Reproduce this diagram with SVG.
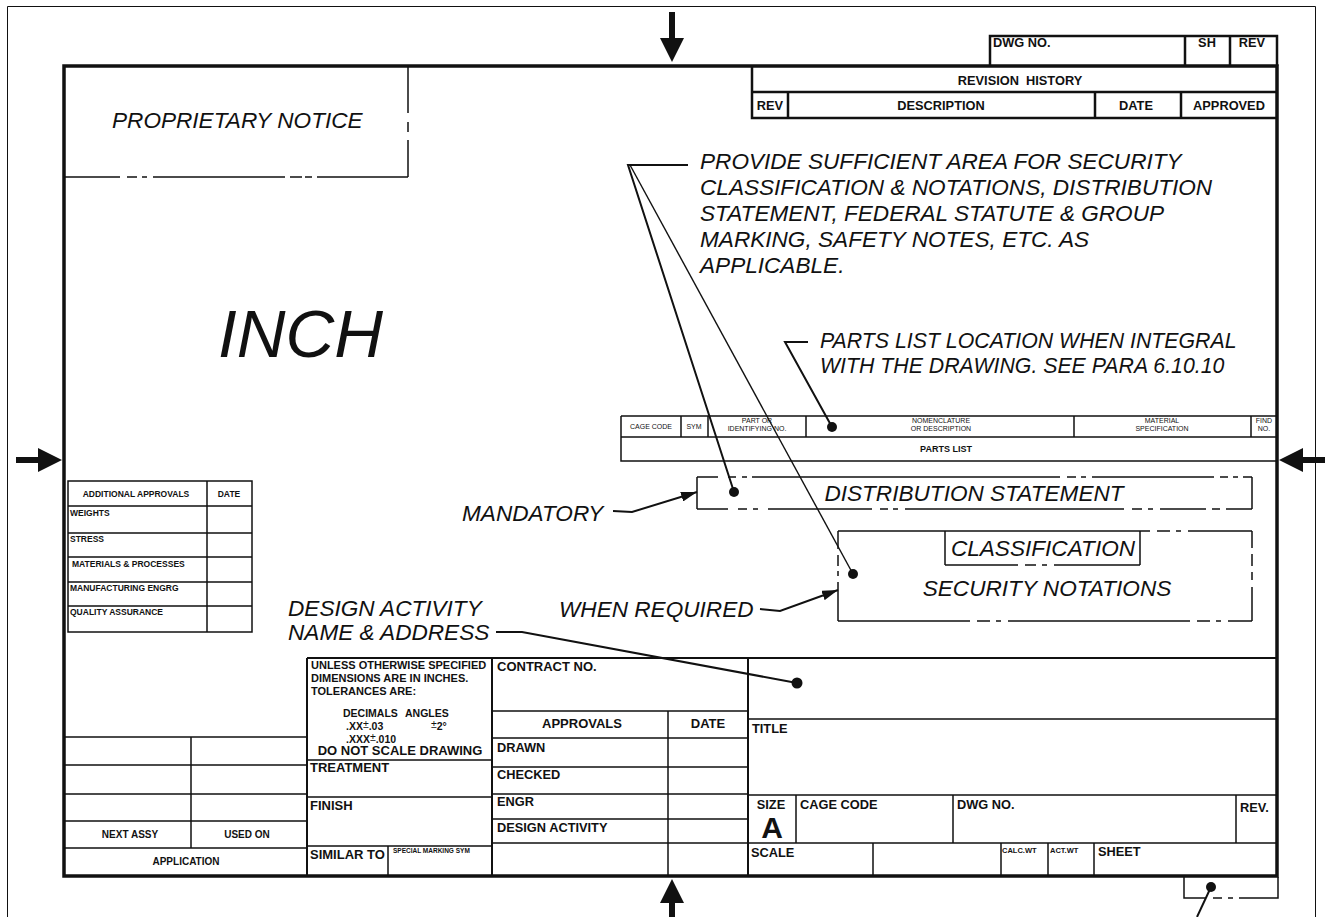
<svg xmlns="http://www.w3.org/2000/svg" width="1325" height="917" viewBox="0 0 1325 917">
<defs>
<style>
.f{font-family:"Liberation Sans",Arial,Helvetica,sans-serif;fill:#111}
.b{font-weight:bold}
.it{font-style:italic;font-size:22.6px}
.it2{font-style:italic;font-size:21.3px}
.m{text-anchor:middle}
.s12{font-size:12px}
.s128{font-size:12.8px}
.s13{font-size:13px}
.s11{font-size:11px}
.s10{font-size:10.5px}
.s85{font-size:8.5px}
.s7{font-size:7px}
.l1{stroke:#111;stroke-width:1;fill:none}
.l15{stroke:#111;stroke-width:1.5;fill:none}
.l2{stroke:#111;stroke-width:2;fill:none}
.l25{stroke:#111;stroke-width:2.5;fill:none}
.l35{stroke:#111;stroke-width:3.5;fill:none}
.ld{stroke:#111;stroke-width:2;fill:none}
.ldt{stroke:#111;stroke-width:1.4;fill:none}
.dot{fill:#111}
</style>
<marker id="ah" viewBox="0 0 16 10" refX="16" refY="5" markerWidth="16" markerHeight="10" markerUnits="userSpaceOnUse" orient="auto"><path d="M0,0 L16,5 L0,10 z" fill="#111"/></marker>
</defs>
<rect width="1325" height="917" fill="#fff"/>

<g id="frame">
<path class="l1" d="M7.5,917 V6.5 H1315.5 V917"/>
<rect class="l35" x="64" y="66" width="1213" height="810"/>
<path class="dot" d="M669,12 H675 V38 H684 L672,62 L660,38 H669 z"/>
<path class="dot" d="M669,917 V903 H660 L672,879 L684,903 H675 V917 z"/>
<path class="dot" d="M16,457 H38 V448 L62,460 L38,472 V463 H16 z"/>
<path class="dot" d="M1325,457 H1303 V448 L1279,460 L1303,472 V463 H1325 z"/>
</g>

<g id="dwg-no-box">
<path class="l25" d="M990,66 V36 H1277 V66 M1185,36 V66 M1230,36 V66"/>
<text class="f b s128" x="993" y="47">DWG NO.</text>
<text class="f b s128 m" x="1207" y="47">SH</text>
<text class="f b s128 m" x="1252" y="47">REV</text>
</g>

<g id="revision-history">
<path class="l25" d="M752,66 V118 H1277 M752,92 H1277 M788,92 V118 M1095,92 V118 M1181,92 V118"/>
<text class="f b s128 m" x="1020" y="85" xml:space="preserve">REVISION  HISTORY</text>
<text class="f b s128 m" x="770" y="110">REV</text>
<text class="f b s128 m" x="941" y="110">DESCRIPTION</text>
<text class="f b s128 m" x="1136" y="110">DATE</text>
<text class="f b s128 m" x="1229" y="110">APPROVED</text>
</g>

<g id="proprietary-notice">
<path class="l15" d="M408,66 V113 M408,122 V132 M408,140 V177 M64,177 H120 M127,177 H137 M142,177 H147 M153,177 H285 M290,177 H302 M305,177 H312 M317,177 H408"/>
<text class="f it" x="112" y="128">PROPRIETARY NOTICE</text>
</g>

<g id="inch">
<text class="f" x="218" y="357" font-style="italic" font-size="67.5">INCH</text>
</g>

<g id="parts-list">
<path class="l15" d="M621,416 H1277 M621,416 V461 H1277 M621,437 H1277 M681,416 V437 M708,416 V437 M806,416 V437 M1074,416 V437 M1251,416 V437"/>
<text class="f s7 m" x="651" y="429">CAGE CODE</text>
<text class="f s7 m" x="694" y="429">SYM</text>
<text class="f s7 m" x="757" y="423">PART OR</text>
<text class="f s7 m" x="757" y="431">IDENTIFYING NO.</text>
<text class="f s7 m" x="941" y="423">NOMENCLATURE</text>
<text class="f s7 m" x="941" y="431">OR DESCRIPTION</text>
<text class="f s7 m" x="1162" y="423">MATERIAL</text>
<text class="f s7 m" x="1162" y="431">SPECIFICATION</text>
<text class="f s7 m" x="1264" y="423">FIND</text>
<text class="f s7 m" x="1264" y="431">NO.</text>
<text class="f b m" x="946" y="452" font-size="9">PARTS LIST</text>
</g>

<g id="additional-approvals">
<rect class="l15" x="68" y="481" width="184" height="151"/>
<path class="l15" d="M207,481 V632 M68,506 H252 M68,533 H252 M68,557 H252 M68,582 H252 M68,606 H252"/>
<text class="f b s85 m" x="136" y="497">ADDITIONAL APPROVALS</text>
<text class="f b s85 m" x="229" y="497">DATE</text>
<text class="f b s85" x="70" y="516">WEIGHTS</text>
<text class="f b s85" x="70" y="542">STRESS</text>
<text class="f b s85" x="72" y="567">MATERIALS &amp; PROCESSES</text>
<text class="f b s85" x="70" y="591">MANUFACTURING ENGRG</text>
<text class="f b s85" x="70" y="615">QUALITY ASSURANCE</text>
</g>

<g id="title-block">
<path class="l2" d="M307,658 H1277 M307,658 V876 M492,658 V876 M748,658 V876"/>
<path class="l15" d="M64,737 H307 M64,765 H307 M64,794 H307 M64,821 H307 M64,848 H307 M191,737 V848 M307,760 H492 M307,797 H492 M307,846 H492 M388,846 V876 M492,711 H748 M492,738 H748 M492,767 H748 M492,794 H748 M492,819 H748 M492,843 H748 M668,711 V876 M748,719 H1277 M748,795 H1277 M748,843 H1277 M796,795 V843 M953,795 V843 M1236,795 V843 M873,843 V876 M1001,843 V876 M1048,843 V876 M1094,843 V876"/>
<text class="f b m" x="130" y="838" font-size="10">NEXT ASSY</text>
<text class="f b m" x="247" y="838" font-size="10">USED ON</text>
<text class="f b m" x="186" y="865" font-size="10">APPLICATION</text>
<text class="f b s11" x="311" y="669">UNLESS OTHERWISE SPECIFIED</text>
<text class="f b s11" x="311" y="682">DIMENSIONS ARE IN INCHES.</text>
<text class="f b s11" x="311" y="695">TOLERANCES ARE:</text>
<text class="f b s10" x="343" y="717">DECIMALS</text>
<text class="f b s10" x="405" y="717">ANGLES</text>
<text class="f b s10" x="346" y="730">.XX<tspan font-weight="normal" dy="-2">±</tspan><tspan dy="2">.03</tspan></text>
<text class="f s10" x="431" y="728">±<tspan font-weight="bold" dy="2">2°</tspan></text>
<text class="f b s10" x="346" y="743">.XXX<tspan font-weight="normal" dy="-2">±</tspan><tspan dy="2">.010</tspan></text>
<text class="f b s13 m" x="400" y="755">DO NOT SCALE DRAWING</text>
<text class="f b s13" x="310" y="772">TREATMENT</text>
<text class="f b s13" x="310" y="810">FINISH</text>
<text class="f b s13" x="310" y="859">SIMILAR TO</text>
<text class="f b" x="393" y="853" font-size="6.5">SPECIAL MARKING SYM</text>
<text class="f b s13" x="497" y="671">CONTRACT NO.</text>
<text class="f b s13 m" x="582" y="728">APPROVALS</text>
<text class="f b s13 m" x="708" y="728">DATE</text>
<text class="f b s128" x="497" y="752">DRAWN</text>
<text class="f b s128" x="497" y="779">CHECKED</text>
<text class="f b s128" x="497" y="806">ENGR</text>
<text class="f b s128" x="497" y="832">DESIGN ACTIVITY</text>
<text class="f b s128" x="752" y="733">TITLE</text>
<text class="f b s128 m" x="771" y="809">SIZE</text>
<text class="f b m" x="772" y="838" font-size="30">A</text>
<text class="f b s128" x="800" y="809">CAGE CODE</text>
<text class="f b s128" x="957" y="809">DWG NO.</text>
<text class="f b s128" x="1240" y="812">REV.</text>
<text class="f b s128" x="751" y="857">SCALE</text>
<text class="f b" x="1002" y="853" font-size="7.5">CALC.WT</text>
<text class="f b" x="1050" y="853" font-size="7.5">ACT.WT</text>
<text class="f b s128" x="1098" y="856">SHEET</text>
</g>

<g id="sheet-marker">
<path class="l15" d="M1184,877 V898 H1206 M1213,898 H1222 M1228,898 H1233 M1239,898 H1278 V877"/>
</g>

<g id="distribution-statement">
<path class="l15" d="M697,477 V509 M1252,477 V509 M697,477 H718 M728,477 H736 M742,477 H747 M752,477 H1060 M1067,477 H1076 M1081,477 H1086 M1092,477 H1214 M1220,477 H1228 M1233,477 H1238 M1243,477 H1252 M697,509 H728 M738,509 H747 M753,509 H758 M768,509 H872 M880,509 H888 M893,509 H898 M905,509 H1124 M1132,509 H1142 M1148,509 H1153 M1160,509 H1206 M1212,509 H1220 M1226,509 H1252"/>
<text class="f it m" x="974" y="501">DISTRIBUTION STATEMENT</text>
</g>

<g id="security-notations">
<path class="l15" d="M838,531 H1150 M1157,531 H1170 M1176,531 H1181 M1188,531 H1252 M838,531 V549 M838,555 V566 M838,571 V576 M838,582 V621 M1252,531 V548 M1252,554 V566 M1252,572 V580 M1252,587 V621 M838,621 H970 M977,621 H990 M996,621 H1001 M1008,621 H1190 M1197,621 H1210 M1216,621 H1221 M1228,621 H1252"/>
<text class="f it m" x="1047" y="596">SECURITY NOTATIONS</text>
</g>

<g id="classification">
<path class="l15" d="M945,531 V565 M1140,531 V565 M945,565 H1018 M1025,565 H1036 M1042,565 H1047 M1054,565 H1140"/>
<text class="f it m" x="1043" y="556">CLASSIFICATION</text>
</g>

<g id="notes">
<text class="f it" x="700" y="169">PROVIDE SUFFICIENT AREA FOR SECURITY</text>
<text class="f it" x="700" y="195">CLASSIFICATION &amp; NOTATIONS, DISTRIBUTION</text>
<text class="f it" x="700" y="221">STATEMENT, FEDERAL STATUTE &amp; GROUP</text>
<text class="f it" x="700" y="247">MARKING, SAFETY NOTES, ETC. AS</text>
<text class="f it" x="700" y="273">APPLICABLE.</text>
<text class="f it2" x="820" y="348">PARTS LIST LOCATION WHEN INTEGRAL</text>
<text class="f it2" x="820" y="373">WITH THE DRAWING. SEE PARA 6.10.10</text>
<text class="f it" x="462" y="521">MANDATORY</text>
<text class="f it" x="559" y="617">WHEN REQUIRED</text>
<text class="f it" x="288" y="616">DESIGN ACTIVITY</text>
<text class="f it" x="288" y="640">NAME &amp; ADDRESS</text>
</g>

<g id="connectors">
<path class="ld" d="M688,165 H628 L734,492"/>
<path class="ldt" d="M630,165 L853,574"/>
<circle class="dot" cx="734" cy="492" r="5"/>
<circle class="dot" cx="853" cy="574" r="5"/>
<path class="ld" d="M808,342 H785 L832,427"/>
<circle class="dot" cx="832" cy="427" r="5"/>
<path class="ld" d="M613,511 L632,512 L697,492" marker-end="url(#ah)"/>
<path class="ld" d="M760,609 L780,611 L838,590" marker-end="url(#ah)"/>
<path class="ld" d="M496,632 H522 L797,683"/>
<circle class="dot" cx="797" cy="683" r="5.5"/>
<path class="ld" d="M1211,887 L1197,917"/>
<circle class="dot" cx="1211" cy="887" r="5"/>
</g>
</svg>
